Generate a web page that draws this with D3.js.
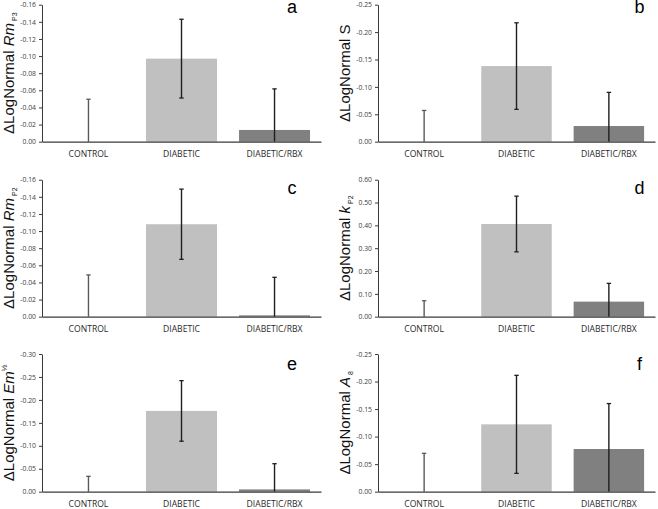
<!DOCTYPE html>
<html>
<head>
<meta charset="utf-8">
<script src="https://cdn.jsdelivr.net/npm/d3@7"></script>
<style>
  html, body { margin: 0; padding: 0; background: #fff; }
  svg { display: block; }
</style>
</head>
<body>
<svg id="chart" width="658" height="509"></svg>
<script>
// ---------- DATA ----------
const categories = ["CONTROL", "DIABETIC", "DIABETIC/RBX"];

const valuesA = [0, -0.097, -0.0137];
const errorsA = [0.0496, 0.046, 0.048];
const ticksA  = [0, -0.02, -0.04, -0.06, -0.08, -0.10, -0.12, -0.14, -0.16];

const valuesB = [0, -0.138, -0.0286];
const errorsB = [0.057, 0.079, 0.0614];
const ticksB  = [0, -0.05, -0.10, -0.15, -0.20, -0.25];

const valuesC = [0, -0.108, -0.0016];
const errorsC = [0.0488, 0.041, 0.0444];
const ticksC  = [0, -0.02, -0.04, -0.06, -0.08, -0.10, -0.12, -0.14, -0.16];

const valuesD = [0, 0.406, 0.066];
const errorsD = [0.070, 0.122, 0.080];
const ticksD  = [0, 0.1, 0.2, 0.3, 0.4, 0.5, 0.6];

const valuesE = [0, -0.176, -0.005];
const errorsE = [0.0335, 0.066, 0.056];
const ticksE  = [0, -0.05, -0.10, -0.15, -0.20, -0.25, -0.30];

const valuesF = [0, -0.1223, -0.0775];
const errorsF = [0.0697, 0.089, 0.0825];
const ticksF  = [0, -0.05, -0.10, -0.15, -0.20, -0.25];

const panelLetters = ["a", "b", "c", "d", "e", "f"];
// axis title parts: [plain, italic, subscript, superscript]
const titlesA = ["\u0394LogNormal ", "Rm", "P3", ""];
const titlesB = ["\u0394LogNormal S", "", "", ""];
const titlesC = ["\u0394LogNormal ", "Rm", "P2", ""];
const titlesD = ["\u0394LogNormal ", "k", "P2", ""];
const titlesE = ["\u0394LogNormal ", "Em", "", "\u00BD"];
const titlesF = ["\u0394LogNormal ", "A", "8", ""];

const barColors = ["#c0c0c0", "#c0c0c0", "#808080"];

// ---------- LAYOUT ----------
const colX = [[42, 321], [378, 655]];
const rowY = [[141.7, 4.7], [316.7, 179.7], [491.7, 354]];
const letterBase = [13, 193.5, 370];
const letterInset = [29, 15.5];

const panels = [
  {v: valuesA, e: errorsA, t: ticksA, title: titlesA},
  {v: valuesB, e: errorsB, t: ticksB, title: titlesB},
  {v: valuesC, e: errorsC, t: ticksC, title: titlesC},
  {v: valuesD, e: errorsD, t: ticksD, title: titlesD},
  {v: valuesE, e: errorsE, t: ticksE, title: titlesE},
  {v: valuesF, e: errorsF, t: ticksF, title: titlesF}
];

const svg = d3.select("#chart");
const fmt = d => (Math.abs(d) < 1e-9 ? "0.00" : d.toFixed(2));

panels.forEach((p, i) => {
  const col = i % 2, row = Math.floor(i / 2);
  const [x0, x1] = colX[col];
  const [y0, y1] = rowY[row];
  const ext = p.t[p.t.length - 1];

  const x = d3.scaleBand().domain(categories).range([x0, x1])
    .paddingInner(0.237).paddingOuter(0.118);
  const y = d3.scaleLinear().domain([0, ext]).range([y0, y1]);

  const g = svg.append("g");

  // bars
  g.selectAll("rect.bar").data(categories).enter().append("rect")
    .attr("x", d => x(d))
    .attr("width", x.bandwidth())
    .attr("y", (d, k) => Math.min(y(p.v[k]), y(0)))
    .attr("height", (d, k) => Math.abs(y(p.v[k]) - y(0)))
    .attr("fill", (d, k) => barColors[k]);

  // error bars
  categories.forEach((c, k) => {
    const cx = x(c) + x.bandwidth() / 2;
    const sgn = ext < 0 ? -1 : 1;
    const hi = p.v[k] + sgn * p.e[k];
    let lo = p.v[k] - sgn * p.e[k];
    const clipped = (sgn < 0 ? lo > 0 : lo < 0);
    if (clipped) lo = 0;
    const col = k === 0 ? "#5a5a5a" : "#1e1e1e";
    g.append("line").attr("x1", cx).attr("x2", cx)
      .attr("y1", y(hi)).attr("y2", y(lo))
      .attr("stroke", col).attr("stroke-width", 1.4);
    g.append("line").attr("x1", cx - 2.2).attr("x2", cx + 2.2)
      .attr("y1", y(hi)).attr("y2", y(hi))
      .attr("stroke", col).attr("stroke-width", 1.3);
    if (!clipped && k !== 0) {
      g.append("line").attr("x1", cx - 2.2).attr("x2", cx + 2.2)
        .attr("y1", y(lo)).attr("y2", y(lo))
        .attr("stroke", col).attr("stroke-width", 1.3);
    }
  });

  // y axis
  const yAxis = d3.axisLeft(y).tickValues(p.t).tickFormat(fmt)
    .tickSize(3).tickSizeOuter(0).tickPadding(3);
  const ya = g.append("g").attr("transform", `translate(${x0},0)`).call(yAxis);
  ya.select(".domain").attr("stroke", "#3a3a3a").attr("stroke-width", 1);
  ya.selectAll(".tick line").attr("stroke", "#3a3a3a");
  ya.selectAll(".tick text").attr("fill", "#404040")
    .style("font-family", "'Open Sans', sans-serif").style("font-size", "6.8px");

  // x axis line
  const xAxis = d3.axisBottom(x).tickSize(0).tickSizeOuter(0).tickPadding(9.5);
  const xa = g.append("g").attr("transform", `translate(0,${y0})`).call(xAxis);
  xa.select(".domain").attr("stroke", "#3a3a3a").attr("stroke-width", 1.2);
  xa.selectAll(".tick text").attr("fill", "#2a2a2a")
    .style("font-family", "'Open Sans', sans-serif").style("font-size", "8.6px");

  // axis title
  const tx = x0 - 28.5, ty = (y0 + y1) / 2;
  const t = g.append("text")
    .attr("transform", `translate(${tx},${ty}) rotate(-90)`)
    .attr("text-anchor", "middle")
    .style("font-family", "Arial, 'Liberation Sans', sans-serif")
    .style("font-size", "15px").attr("fill", "#111");
  t.append("tspan").text(p.title[0]);
  if (p.title[1]) t.append("tspan").style("font-style", "italic").text(p.title[1]);
  if (p.title[2]) t.append("tspan").attr("dx", 2).attr("dy", 3).style("font-size", "7px").text(p.title[2]);
  if (p.title[3]) t.append("tspan").attr("dy", -7).style("font-size", "8px").text(p.title[3]);

  // panel letter
  g.append("text")
    .attr("x", x1 - letterInset[col]).attr("y", letterBase[row])
    .attr("text-anchor", "middle")
    .style("font-family", "Arial, 'Liberation Sans', sans-serif")
    .style("font-size", "18px").attr("fill", "#000")
    .text(panelLetters[i]);
});
</script>
</body>
</html>
